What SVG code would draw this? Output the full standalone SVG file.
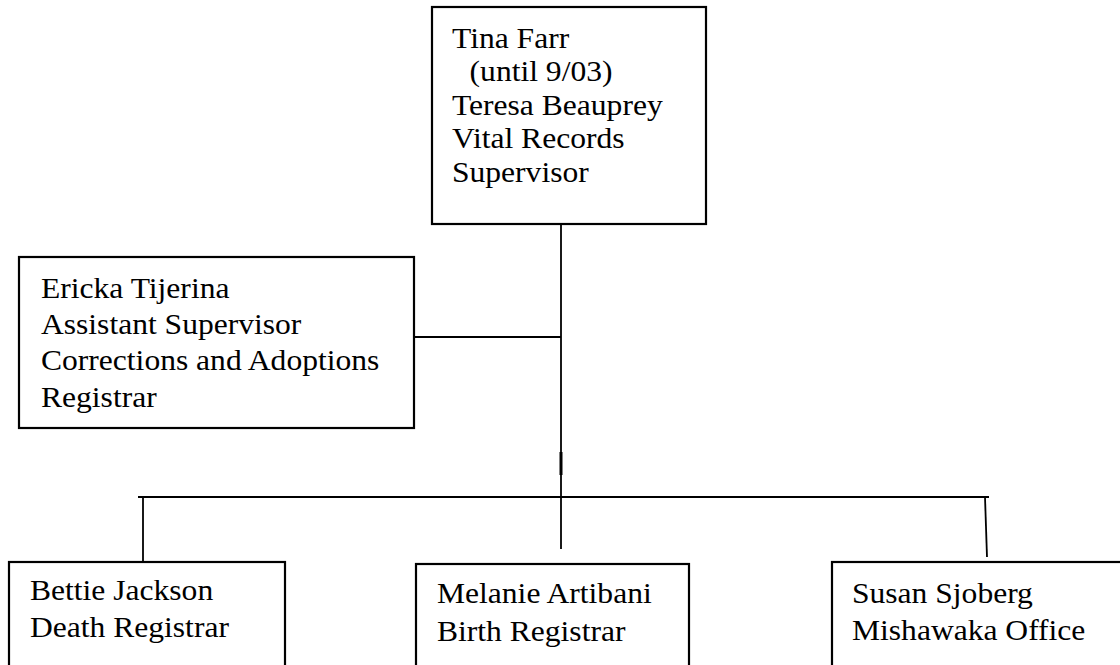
<svg xmlns="http://www.w3.org/2000/svg" width="1120" height="665" viewBox="0 0 1120 665">
<style>
.box{fill:#fff;stroke:#000;stroke-width:2.2}
.ln{stroke:#000;stroke-width:1.8;fill:none}
.t{font-family:"Liberation Serif","Times New Roman",serif;font-size:28.7px;fill:#000}
</style>
<rect width="1120" height="665" fill="#fff"/>
<g id="connectors">
<line class="ln" x1="561" y1="224" x2="561" y2="549"/>
<line class="ln" x1="414" y1="337" x2="561" y2="337"/>
<line x1="561" y1="452" x2="561" y2="475" stroke="#000" stroke-width="3"/>
<line class="ln" x1="138" y1="497" x2="989" y2="497"/>
<line class="ln" x1="143" y1="497" x2="143" y2="562"/>
<line class="ln" x1="985" y1="497" x2="987" y2="557"/>
</g>
<g id="n-supervisor">
<rect class="box" x="432" y="7" width="274" height="217"/>
<text class="t" transform="translate(452,0) scale(1.1,1)"><tspan x="0" y="48">Tina Farr</tspan><tspan x="16" y="81.5">(until 9/03)</tspan><tspan x="0" y="115">Teresa Beauprey</tspan><tspan x="0" y="148.5">Vital Records</tspan><tspan x="0" y="182">Supervisor</tspan></text>
</g>
<g id="n-assistant">
<rect class="box" x="19" y="257" width="395" height="171"/>
<text class="t" transform="translate(41,0) scale(1.1,1)"><tspan x="0" y="298">Ericka Tijerina</tspan><tspan x="0" y="334">Assistant Supervisor</tspan><tspan x="0" y="370">Corrections and Adoptions</tspan><tspan x="0" y="407">Registrar</tspan></text>
</g>
<g id="n-death">
<rect class="box" x="9" y="562" width="276" height="130"/>
<text class="t" transform="translate(30,0) scale(1.1,1)"><tspan x="0" y="600">Bettie Jackson</tspan><tspan x="0" y="637">Death Registrar</tspan></text>
</g>
<g id="n-birth">
<rect class="box" x="416" y="564" width="273" height="130"/>
<text class="t" transform="translate(437,0) scale(1.1,1)"><tspan x="0" y="603">Melanie Artibani</tspan><tspan x="0" y="641">Birth Registrar</tspan></text>
</g>
<g id="n-mishawaka">
<rect class="box" x="832" y="562" width="320" height="130"/>
<text class="t" transform="translate(852,0) scale(1.1,1)"><tspan x="0" y="603">Susan Sjoberg</tspan><tspan x="0" y="640">Mishawaka Office</tspan></text>
</g>
</svg>
